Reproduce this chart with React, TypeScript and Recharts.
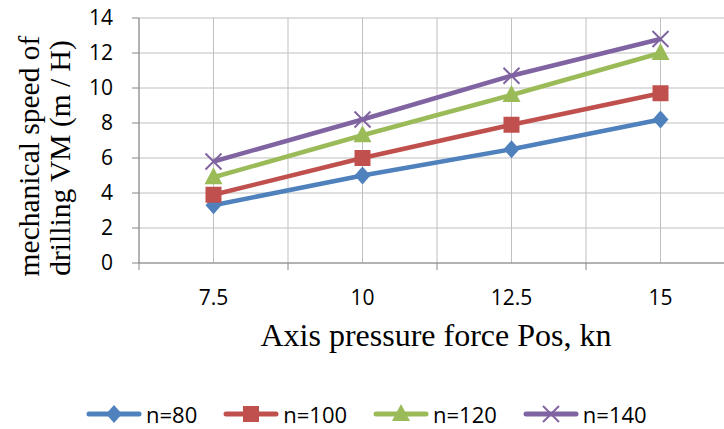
import React from 'react';
import { LineChart, Line, XAxis, YAxis, CartesianGrid, Legend } from 'recharts';

// values
const pressure = [7.5, 10, 12.5, 15];
const n80 = [3.3, 5, 6.5, 8.2];
const n100 = [3.9, 6, 7.9, 9.7];
const n120 = [4.9, 7.3, 9.6, 12];
const n140 = [5.8, 8.2, 10.7, 12.8];

const yTicks = [0, 2, 4, 6, 8, 10, 12, 14];
// category borders + category centres (grid is drawn on both)
const xTicks = [6.25, 7.5, 8.75, 10, 11.25, 12.5, 13.75, 15, 16.25];

const seriesList = [
  { key: 'n80', name: 'n=80', color: '#4f81bd', shape: 'diamond' },
  { key: 'n100', name: 'n=100', color: '#c0504d', shape: 'square' },
  { key: 'n120', name: 'n=120', color: '#9bbb59', shape: 'triangle' },
  { key: 'n140', name: 'n=140', color: '#8064a2', shape: 'x' },
];

const data = pressure.map((p, i) => ({
  p,
  n80: n80[i],
  n100: n100[i],
  n120: n120[i],
  n140: n140[i],
}));

const SANS = '"Open Sans", sans-serif';
const SERIF = '"Liberation Serif", "Times New Roman", serif';
const AXIS_COLOR = '#868686';

const Marker = ({ cx, cy, shape, color }: { cx: number; cy: number; shape: string; color: string }) => {
  if (shape === 'diamond') {
    return <path d={`M${cx},${cy - 9}L${cx + 8},${cy}L${cx},${cy + 9}L${cx - 8},${cy}Z`} fill={color} />;
  }
  if (shape === 'square') {
    return <rect x={cx - 8} y={cy - 8} width={16} height={16} fill={color} />;
  }
  if (shape === 'triangle') {
    return <path d={`M${cx},${cy - 10}L${cx + 9},${cy + 7}L${cx - 9},${cy + 7}Z`} fill={color} />;
  }
  return (
    <g stroke={color} strokeWidth={2}>
      <line x1={cx - 8} y1={cy - 8} x2={cx + 8} y2={cy + 8} />
      <line x1={cx - 8} y1={cy + 8} x2={cx + 8} y2={cy - 8} />
    </g>
  );
};

const XTick = (props: any) => {
  const { x, y, payload } = props;
  const v = payload.value;
  if (pressure.includes(v)) {
    return (
      <text x={x} y={y + 42} textAnchor="middle" fill="#000" fontSize={21} fontFamily={SANS}>
        {v}
      </text>
    );
  }
  return <line x1={x} x2={x} y1={y} y2={y + 7} stroke={AXIS_COLOR} />;
};

const YLabel = () => (
  <g fontFamily={SERIF} fontSize={29.5} fill="#000">
    <text transform="translate(39,156) rotate(-90)" textAnchor="middle">
      mechanical speed of
    </text>
    <text transform="translate(70,158) rotate(-90)" textAnchor="middle">
      drilling VM (m / H)
    </text>
  </g>
);

const XLabel = (props: any) => {
  const { viewBox } = props;
  return (
    <text
      x={viewBox.x + viewBox.width / 2 - 1}
      y={viewBox.y + 83}
      textAnchor="middle"
      fontFamily={SERIF}
      fontSize={32}
      fill="#000"
    >
      Axis pressure force Pos, kn
    </text>
  );
};

const renderLegend = () => (
  <div style={{ display: 'flex', alignItems: 'center', height: 30, paddingLeft: 86 }}>
    {seriesList.map((s) => (
      <div key={s.key} style={{ display: 'flex', alignItems: 'center', marginRight: 26 }}>
        <svg width={56} height={30}>
          <line x1={3} x2={53} y1={15} y2={15} stroke={s.color} strokeWidth={5} strokeLinecap="round" />
          <Marker cx={28} cy={15} shape={s.shape} color={s.color} />
        </svg>
        <span style={{ fontFamily: SANS, fontSize: 22, color: '#000', marginLeft: 4 }}>{s.name}</span>
      </div>
    ))}
  </div>
);

export default function App() {
  return (
    <div style={{ width: 724, height: 429, overflow: 'hidden', position: 'relative', background: '#fff' }}>
      <style>{'body{margin:0;}'}</style>
      <LineChart width={740} height={429} data={data} margin={{ top: 18, right: 5, left: 0, bottom: 0 }}>
        <CartesianGrid stroke="#bfbfbf" strokeWidth={1} />
        <XAxis
          dataKey="p"
          type="number"
          domain={[6.25, 16.25]}
          ticks={xTicks}
          interval={0}
          tickSize={0}
          tickMargin={0}
          tickLine={false}
          tick={<XTick />}
          stroke={AXIS_COLOR}
          height={136}
          label={<XLabel />}
        />
        <YAxis
          domain={[0, 14]}
          ticks={yTicks}
          interval={0}
          width={139}
          tickSize={7}
          tickMargin={19}
          stroke={AXIS_COLOR}
          tick={{ fill: '#000', fontSize: 21, fontFamily: SANS }}
          label={<YLabel />}
        />
        <Legend verticalAlign="bottom" align="left" content={renderLegend} />
        {seriesList.map((s) => (
          <Line
            key={s.key}
            dataKey={s.key}
            name={s.name}
            stroke={s.color}
            strokeWidth={4.5}
            isAnimationActive={false}
            dot={(p: any) => <Marker key={`${s.key}-${p.index}`} cx={p.cx} cy={p.cy} shape={s.shape} color={s.color} />}
            activeDot={false}
          />
        ))}
      </LineChart>
    </div>
  );
}
